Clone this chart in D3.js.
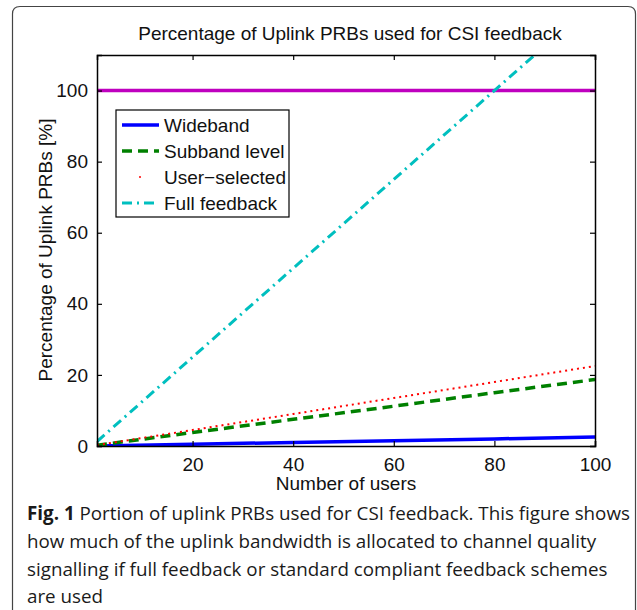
<!DOCTYPE html>
<html><head><meta charset="utf-8">
<script src="https://cdn.jsdelivr.net/npm/d3@7"></script>
<style>body{margin:0;background:#fff;}svg{display:block;}</style>
</head><body>
<svg id="c" width="637" height="610"></svg>
<script>
const users = [1, 20, 40, 60, 80, 100];
const wideband = [0.03, 0.5, 1.0, 1.5, 2.0, 2.5];
const subband = [0.2, 3.8, 7.5, 11.2, 15.0, 18.7];
const userSelected = [0.25, 4.5, 9.0, 13.5, 18.0, 22.5];
const fullFeedback = [1.25, 25, 50, 75, 100, 125];
const limitX = [1, 100];
const limitY = [100, 100];
const xTicks = [20, 40, 60, 80, 100];
const yTicks = [0, 20, 40, 60, 80, 100];
const legendNames = ["Wideband", "Subband level", "User\u2212selected", "Full feedback"];
const captionLines = [
  ["Fig. 1", " Portion of uplink PRBs used for CSI feedback. This figure shows"],
  ["", "how much of the uplink bandwidth is allocated to channel quality"],
  ["", "signalling if full feedback or standard compliant feedback schemes"],
  ["", "are used"]
];

const svg = d3.select("#c");
const L = 97, R = 595, T = 55, B = 446;
const x = d3.scaleLinear().domain([1, 100]).range([L, R]);
const y = d3.scaleLinear().domain([0, 110]).range([B, T]);
const font = "'Liberation Sans', Arial, sans-serif";
const fs = 19;

// outer frame
svg.append("path")
  .attr("d", "M12.5,620 L12.5,14 Q12.5,6.5 20,6.5 L628,6.5 Q635.5,6.5 635.5,14 L635.5,620")
  .attr("fill", "none").attr("stroke", "#444").attr("stroke-width", 1.2);

// title
svg.append("text").attr("x", 350).attr("y", 40).attr("text-anchor", "middle")
  .attr("font-family", font).attr("font-size", fs).attr("fill", "#111")
  .text("Percentage of Uplink PRBs used for CSI feedback");

const clip = svg.append("defs").append("clipPath").attr("id", "clip");
clip.append("rect").attr("x", L).attr("y", T).attr("width", R - L).attr("height", B - T);

const g = svg.append("g").attr("clip-path", "url(#clip)");
function series(vals, xs) {
  return d3.line().x((d, i) => x(xs[i])).y(d => y(d))(vals);
}
const seriesDefs = [
  {v: wideband, c: "#0000ff", w: 3.5, dash: null},
  {v: subband, c: "#008000", w: 3.5, dash: "10,6"},
  {v: userSelected, c: "#ff0000", w: 2, dash: "2,4"},
  {v: fullFeedback, c: "#00bfbf", w: 3, dash: "10,5,2,5"}
];
g.append("path").attr("d", series(limitY, limitX)).attr("fill", "none")
  .attr("stroke", "#bf00bf").attr("stroke-width", 3.5);
seriesDefs.forEach(s => {
  g.append("path").attr("d", series(s.v, users)).attr("fill", "none")
    .attr("stroke", s.c).attr("stroke-width", s.w)
    .attr("stroke-dasharray", s.dash);
});

// axes box
const axB = svg.append("g").attr("transform", `translate(0,${B})`)
  .call(d3.axisBottom(x).tickValues(xTicks).tickSize(-5).tickPadding(8));
const axT = svg.append("g").attr("transform", `translate(0,${T})`)
  .call(d3.axisTop(x).tickValues(xTicks).tickSize(-5).tickFormat(""));
const axL = svg.append("g").attr("transform", `translate(${L},0)`)
  .call(d3.axisLeft(y).tickValues(yTicks).tickSize(-5).tickPadding(9));
const axR = svg.append("g").attr("transform", `translate(${R},0)`)
  .call(d3.axisRight(y).tickValues(yTicks).tickSize(-5).tickFormat(""));
[axB, axT, axL, axR].forEach(a => {
  a.select(".domain").attr("stroke", "#000").attr("stroke-width", 1.5);
  a.selectAll(".tick line").attr("stroke", "#000").attr("stroke-width", 1.2);
  a.selectAll("text").attr("font-family", font).attr("font-size", fs).attr("fill", "#111");
});
axB.selectAll(".tick text").attr("y", 25).attr("dy", null);

// axis labels
svg.append("text").attr("x", 346).attr("y", 490).attr("text-anchor", "middle")
  .attr("font-family", font).attr("font-size", fs).attr("fill", "#111").text("Number of users");
svg.append("text").attr("transform", "translate(52,250) rotate(-90)").attr("text-anchor", "middle")
  .attr("font-family", font).attr("font-size", fs).attr("fill", "#111").text("Percentage of Uplink PRBs [%]");

// legend
const lg = svg.append("g");
lg.append("rect").attr("x", 116).attr("y", 110).attr("width", 173).attr("height", 107)
  .attr("fill", "#fff").attr("stroke", "#000").attr("stroke-width", 1.2);
const lgY = d3.scalePoint().domain(legendNames).range([125, 203]);
legendNames.forEach((n, i) => {
  const s = seriesDefs[i];
  const yy = lgY(n);
  if (i === 2) {
    lg.append("circle").attr("cx", 140).attr("cy", yy).attr("r", 1).attr("fill", s.c);
  } else {
    lg.append("line").attr("x1", 122).attr("x2", 159).attr("y1", yy).attr("y2", yy)
      .attr("stroke", s.c).attr("stroke-width", s.w).attr("stroke-dasharray", s.dash);
  }
  lg.append("text").attr("x", 164).attr("y", yy).attr("dy", "0.35em")
    .attr("font-family", font).attr("font-size", fs).attr("fill", "#111").text(n);
});

// caption
const capY = [520, 548, 576, 603];
captionLines.forEach((ln, i) => {
  const t = svg.append("text").attr("x", 27).attr("y", capY[i])
    .attr("font-family", "'Open Sans', sans-serif").attr("font-size", 18.8).attr("fill", "#1a1a1a");
  if (ln[0]) t.append("tspan").attr("font-weight", "bold").text(ln[0]);
  t.append("tspan").text(ln[1]);
});
</script>
</body></html>
